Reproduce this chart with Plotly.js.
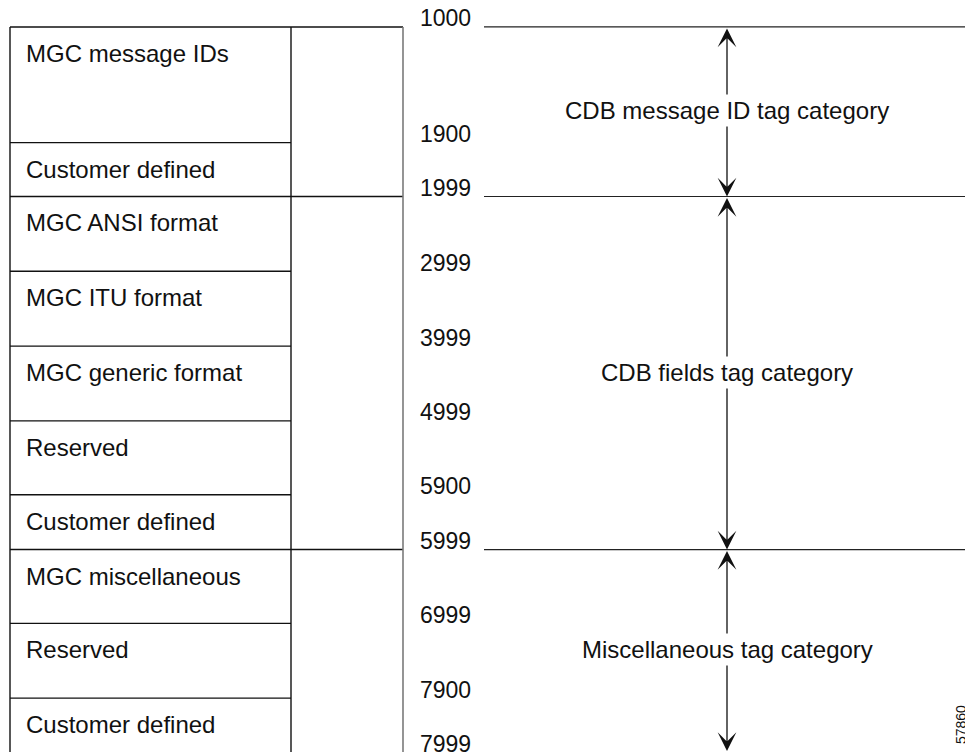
<!DOCTYPE html>
<html>
<head>
<meta charset="utf-8">
<script src="https://cdn.plot.ly/plotly-3.0.1.min.js"></script>
<style>html,body{margin:0;padding:0;background:#fff;}#chart{width:965px;height:753px;}</style>
</head>
<body>
<div id="chart"></div>
<script>
// ---- data ----
const rowLabels = ['MGC message IDs', 'Customer defined', 'MGC ANSI format', 'MGC ITU format',
  'MGC generic format', 'Reserved', 'Customer defined', 'MGC miscellaneous', 'Reserved', 'Customer defined'];
const boundaryLabels = ['1000', '1900', '1999', '2999', '3999', '4999', '5900', '5999', '6999', '7900', '7999'];
const categoryLabels = ['CDB message ID tag category', 'CDB fields tag category', 'Miscellaneous tag category'];
const categoryFrom = ['1000', '1999', '5999'];
const categoryTo = ['1999', '5999', '7999'];
const figureId = '57860';

// ---- layout (positions / sizes / styles) ----
const L = {
  W: 965, H: 753, top: 27,
  rowH: [116, 54, 75, 75, 75, 74, 55, 74, 75, 54],
  boxLeft: 10, divider: 291, boxRight: 403,
  numRight: 473, rightLineStart: 484, arrowX: 727, labelX: 24,
  font: '"Liberation Sans", Arial, Helvetica, sans-serif'
};

const yB = [L.top];
L.rowH.forEach((h, i) => yB.push(yB[i] + h));
const idx = v => boundaryLabels.indexOf(v);
const groupIdx = new Set(categoryFrom.map(idx).concat(categoryTo.map(idx)));

const shapes = [];
const blk = {color: '#111', width: 1.4};
yB.slice(0, -1).forEach((y, i) => {
  shapes.push({type: 'line', xref: 'x', yref: 'y', x0: L.boxLeft, x1: groupIdx.has(i) ? L.boxRight : L.divider,
    y0: y, y1: y, line: blk});
});
const yEnd = yB[yB.length - 1];
shapes.push({type: 'line', xref: 'x', yref: 'y', x0: L.boxLeft, x1: L.boxLeft, y0: yB[0], y1: yEnd, line: blk});
shapes.push({type: 'line', xref: 'x', yref: 'y', x0: L.divider, x1: L.divider, y0: yB[0], y1: yEnd, line: blk});
shapes.push({type: 'line', xref: 'x', yref: 'y', x0: L.boxRight, x1: L.boxRight, y0: yB[0], y1: yEnd, line: {color: '#7a7a7a', width: 1.6}});
categoryFrom.forEach(v => {
  const y = yB[idx(v)];
  shapes.push({type: 'line', xref: 'x', yref: 'y', x0: L.rightLineStart, x1: L.W, y0: y, y1: y, line: {color: '#222', width: 1.2}});
});

const annotations = [];
rowLabels.forEach((t, i) => {
  annotations.push({x: L.labelX, y: yB[i], xref: 'x', yref: 'y', text: t, showarrow: false,
    xanchor: 'left', yanchor: 'middle', yshift: -26.5, font: {family: L.font, size: 24, color: '#111'}});
});
boundaryLabels.forEach((t, i) => {
  annotations.push({x: L.numRight, y: yB[i], xref: 'x', yref: 'y', text: t, showarrow: false,
    xanchor: 'right', yanchor: 'middle', yshift: 8.5, font: {family: L.font, size: 23, color: '#111'}});
});
categoryLabels.forEach((t, k) => {
  const y0 = yB[idx(categoryFrom[k])], y1 = Math.min(yB[idx(categoryTo[k])], L.H);
  annotations.push({x: L.arrowX, y: y1, ax: L.arrowX, ay: y0, xref: 'x', yref: 'y', axref: 'x', ayref: 'y',
    text: '', showarrow: true, arrowside: 'end+start', arrowhead: 3, startarrowhead: 3,
    arrowsize: 2.4, startarrowsize: 2.4, arrowwidth: 1.3, arrowcolor: '#111', standoff: 0, startstandoff: 0});
});
categoryLabels.forEach((t, k) => {
  const y0 = yB[idx(categoryFrom[k])], y1 = Math.min(yB[idx(categoryTo[k])], L.H);
  annotations.push({x: L.arrowX, y: (y0 + y1) / 2, xref: 'x', yref: 'y', text: t, showarrow: false,
    xanchor: 'center', yanchor: 'middle', bgcolor: '#fff', borderpad: 2, yshift: 1,
    font: {family: L.font, size: 24, color: '#111'}});
});
annotations.push({x: 961, y: 727, xref: 'x', yref: 'y', text: figureId, showarrow: false, textangle: -90,
  xanchor: 'center', yanchor: 'middle', font: {family: L.font, size: 14, color: '#111'}});

const layout = {
  width: L.W, height: L.H, margin: {l: 0, r: 0, t: 0, b: 0, pad: 0},
  paper_bgcolor: '#fff', plot_bgcolor: '#fff', showlegend: false,
  xaxis: {range: [0, L.W], visible: false, fixedrange: true},
  yaxis: {range: [L.H + 2, 0], visible: false, fixedrange: true},
  shapes: shapes, annotations: annotations
};
const trace = {x: boundaryLabels.map(() => L.numRight), y: yB, mode: 'markers', marker: {opacity: 0}, hoverinfo: 'skip', type: 'scatter'};
Plotly.newPlot('chart', [trace], layout, {staticPlot: true, displayModeBar: false});
</script>
</body>
</html>
